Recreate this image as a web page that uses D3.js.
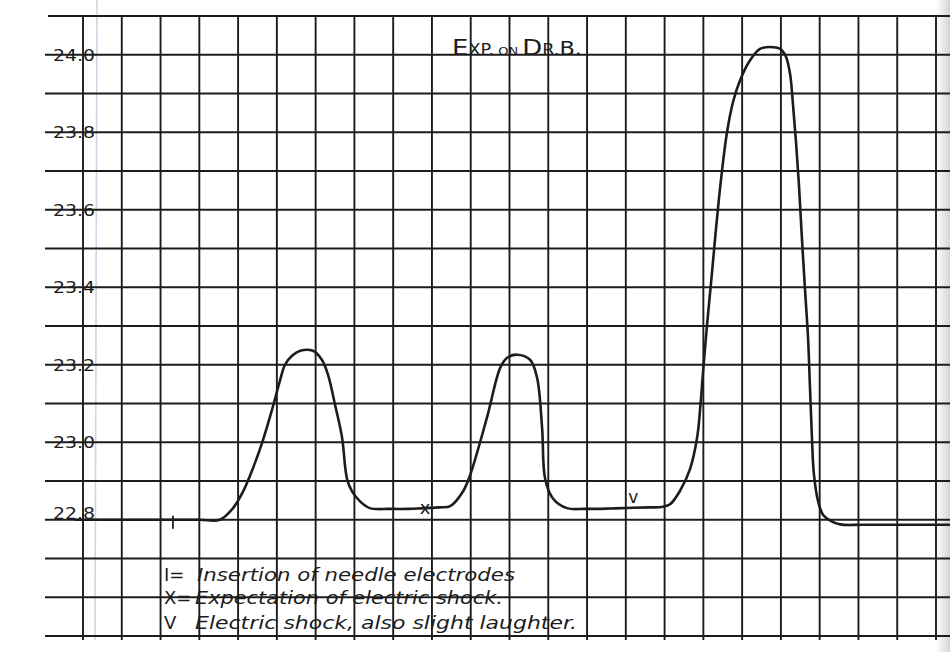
<!DOCTYPE html>
<html><head><meta charset="utf-8">
<script src="https://cdn.jsdelivr.net/npm/d3@7/dist/d3.min.js"></script>
<style>body{margin:0;background:#fff}svg{display:block}</style>
</head><body>
<svg id="c" width="950" height="652"></svg>
<script>
// ---- data ----
const yTickValues = [24.0, 23.8, 23.6, 23.4, 23.2, 23.0, 22.8];
const yTickLabels = ["24.0", "23.8", "23.6", "23.4", "23.2", "23.0", "22.8"];
const gridRows = d3.range(0, 17).map(i => +(24.1 - i * 0.1).toFixed(1)); // 24.1 .. 22.5
const gridCols = d3.range(0, 23); // 23 vertical grid lines

// traced curve: x in grid units, y in reading units
const curveX = [-0.21, 1.5, 3.0, 3.53, 3.87, 4.13, 4.38, 4.64, 4.87, 5.08, 5.21, 5.39, 5.60, 5.93, 6.16, 6.32, 6.50, 6.68, 6.81, 6.94, 7.14, 7.40, 7.90,
  8.40, 8.77, 9.20, 9.47, 9.80, 9.98, 10.42, 10.76, 10.94, 11.19, 11.53, 11.71, 11.84, 11.92, 12.12, 12.48, 12.95,
  13.60, 14.19, 14.60, 14.93, 15.14, 15.40, 15.66, 15.84, 15.92, 16.00, 16.10, 16.21, 16.33, 16.46, 16.61, 16.77, 16.95, 17.20, 17.46,
  17.72, 17.98, 18.13, 18.24, 18.31, 18.39, 18.47, 18.54, 18.62, 18.70, 18.75, 18.80, 18.85, 18.96, 19.09, 19.27, 19.53, 20.1, 21.2, 22.40];
const curveY = [22.80, 22.80, 22.80, 22.80, 22.83, 22.873, 22.932, 23.005, 23.082, 23.159, 23.20, 23.223, 23.236, 23.236, 23.213, 23.174, 23.097, 23.013, 22.905, 22.873, 22.848, 22.83, 22.828,
  22.828, 22.83, 22.832, 22.835, 22.873, 22.914, 23.064, 23.192, 23.218, 23.226, 23.213, 23.167, 23.038, 22.905, 22.855, 22.83, 22.828,
  22.829, 22.831, 22.832, 22.833, 22.84, 22.875, 22.932, 23.013, 23.09, 23.192, 23.308, 23.424, 23.555, 23.682, 23.80, 23.88, 23.935, 23.985, 24.015,
  24.02, 24.015, 23.995, 23.948, 23.873, 23.774, 23.656, 23.53, 23.397, 23.269, 23.141, 23.013, 22.919, 22.847, 22.812, 22.798, 22.788, 22.787, 22.787, 22.787];

const markerLabels = ["I", "x", "v"];
const markerX = [2.32, 8.82, 14.19];
const markerY = [22.80, 22.83, 22.85];

const titleParts = ["E", "XP.", " ON ", "D", "R.", "B."];
const titleSizes = [22, 15, 11, 22, 15, 19];

const legendKeys = ["I=", "X=", "V"];
const legendTexts = ["Insertion of needle electrodes", "Expectation of electric shock.", "Electric shock, also slight laughter."];
const legendLengths = [318, 308, 382];

// ---- drawing ----
const svg = d3.select("#c");
const x = d3.scaleLinear().domain([0, 22]).range([83, 936]);
const y = d3.scaleLinear().domain([24.1, 22.5]).range([16, 636]);
const ink = "#1c1c1c";

// paper edge shade on the right
const defs = svg.append("defs");
const grad = defs.append("linearGradient").attr("id", "edge").attr("x1", 0).attr("x2", 1);
grad.append("stop").attr("offset", 0).attr("stop-color", "#fff");
grad.append("stop").attr("offset", 1).attr("stop-color", "#d4d4d4");
svg.append("rect").attr("x", 936).attr("y", 0).attr("width", 14).attr("height", 652).attr("fill", "url(#edge)");

// faint blue margin line
svg.append("line").attr("x1", 97).attr("x2", 95).attr("y1", 0).attr("y2", 640)
  .attr("stroke", "#c3cbe0").attr("stroke-width", 1.6).attr("opacity", 0.8);

// grid
const g = svg.append("g");
g.selectAll("line.h").data(gridRows).join("line").attr("class", "h")
  .attr("x1", (d, i) => i === 0 ? 48 : 45).attr("x2", 950)
  .attr("y1", d => y(d)).attr("y2", d => y(d))
  .attr("stroke", ink).attr("stroke-width", 1.9);
g.selectAll("line.v").data(gridCols).join("line").attr("class", "v")
  .attr("x1", d => x(d)).attr("x2", d => x(d))
  .attr("y1", y(24.1)).attr("y2", y(22.5) + 4)
  .attr("stroke", ink).attr("stroke-width", 1.9);

// y labels
svg.selectAll("text.yl").data(yTickValues).join("text").attr("class", "yl")
  .attr("x", 53)
  .attr("y", (d, i) => i === yTickValues.length - 1 ? y(d) - 1 : y(d) + 6)
  .attr("font-family", "DejaVu Sans, sans-serif").attr("font-size", 16)
  .attr("fill", ink)
  .attr("textLength", 42).attr("lengthAdjust", "spacingAndGlyphs")
  .text((d, i) => yTickLabels[i]);

// curve
const pts = curveX.map((d, i) => [d, curveY[i]]);
svg.append("path").datum(pts)
  .attr("d", d3.line().x(d => x(d[0])).y(d => y(d[1])).curve(d3.curveCatmullRom.alpha(0.5)))
  .attr("fill", "none").attr("stroke", ink).attr("stroke-width", 2.6).attr("stroke-linejoin", "round");

// markers
markerLabels.forEach((lab, i) => {
  const mx = x(markerX[i]), my = y(markerY[i]);
  if (lab === "I") {
    svg.append("line").attr("x1", mx).attr("x2", mx).attr("y1", my - 4).attr("y2", my + 9)
      .attr("stroke", ink).attr("stroke-width", 1.8);
  } else {
    svg.append("text").attr("x", mx).attr("y", lab === "x" ? my + 6 : my + 3)
      .attr("text-anchor", "middle").attr("font-family", "DejaVu Sans, sans-serif")
      .attr("font-size", lab === "x" ? 18 : 17).attr("fill", ink).text(lab);
  }
});

// title
const t = svg.append("text").attr("x", 452).attr("y", 55)
  .attr("font-family", "DejaVu Sans, sans-serif").attr("fill", ink)
  .attr("textLength", 130).attr("lengthAdjust", "spacingAndGlyphs");
titleParts.forEach((p, i) => t.append("tspan").attr("font-size", titleSizes[i]).text(p));

// legend
const legendBase = [581, 604, 629];
legendKeys.forEach((k, i) => {
  svg.append("text").attr("x", 164).attr("y", legendBase[i])
    .attr("font-family", "DejaVu Sans, sans-serif").attr("font-size", 18).attr("fill", ink)
    .text(k);
  svg.append("text").attr("x", i === 0 ? 197 : 195).attr("y", legendBase[i])
    .attr("font-family", "DejaVu Sans, sans-serif").attr("font-style", "italic")
    .attr("font-size", 18).attr("fill", ink)
    .attr("textLength", legendLengths[i]).attr("lengthAdjust", "spacingAndGlyphs")
    .text(legendTexts[i]);
});
</script>
</body></html>
